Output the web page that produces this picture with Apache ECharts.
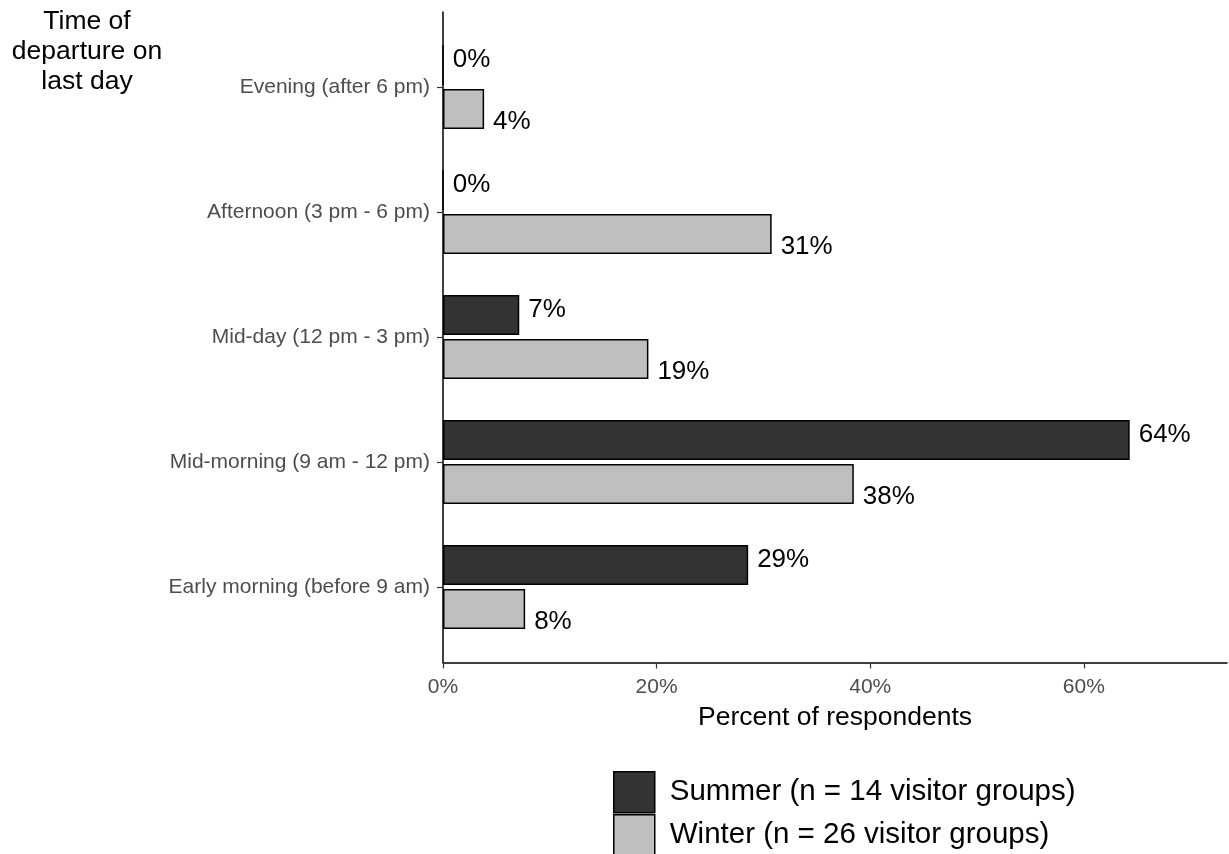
<!DOCTYPE html>
<html>
<head>
<meta charset="utf-8">
<script src="https://cdn.jsdelivr.net/npm/echarts@6/dist/echarts.min.js"></script>
<style>
html,body{margin:0;padding:0;background:#fff;}
#chart{width:1229px;height:854px;}
</style>
</head>
<body>
<div id="chart"></div>
<script>
const categories = ['Early morning (before 9 am)', 'Mid-morning (9 am - 12 pm)', 'Mid-day (12 pm - 3 pm)', 'Afternoon (3 pm - 6 pm)', 'Evening (after 6 pm)'];
const summerValues = [28.57, 64.29, 7.14, 0, 0];
const winterValues = [7.69, 38.46, 19.23, 30.77, 3.85];
const seriesNames = ['Summer (n = 14 visitor groups)', 'Winter (n = 26 visitor groups)'];
const xTicks = [0, 20, 40, 60];

const FONT = 'Liberation Sans, Arial, sans-serif';
const chart = echarts.init(document.getElementById('chart'), null, {renderer: 'canvas'});

const labelCfg = (dy) => ({
  show: true,
  position: 'right',
  distance: 9,
  offset: [0, dy],
  color: '#000',
  fontSize: 26,
  fontFamily: FONT,
  formatter: p => Math.round(p.value) + '%'
});

const legendCfg = (name, top) => ({
  orient: 'vertical',
  left: 613, top: top, padding: 0,
  itemWidth: 41, itemHeight: 41, itemGap: 0,
  icon: 'rect',
  itemStyle: {borderColor: '#000', borderWidth: 1.5},
  textStyle: {color: '#000', fontSize: 29.5, fontFamily: FONT, padding: [2, 0, 0, 10]},
  data: [name]
});

chart.setOption({
  backgroundColor: '#fff',
  animation: false,
  textStyle: {fontFamily: FONT},
  grid: [
    {left: 443, right: 2, top: 24.5, bottom: 204.5, containLabel: false},
    {left: 443, right: 2, top: 12, bottom: 191.5, containLabel: false}
  ],
  xAxis: [
    {
      gridIndex: 0, type: 'value', min: 0, max: 73.4, interval: 20,
      offset: 13,
      axisLine: {show: true, lineStyle: {color: '#000', width: 1.5}},
      axisTick: {show: true, length: 6, lineStyle: {color: '#333', width: 1.2}},
      axisLabel: {
        color: '#4d4d4d', fontSize: 21, fontFamily: FONT, margin: 14,
        showMaxLabel: false,
        formatter: v => (xTicks.indexOf(v) >= 0 ? v + '%' : '')
      },
      splitLine: {show: false},
      name: 'Percent of respondents', nameLocation: 'middle', nameGap: 42,
      nameTextStyle: {color: '#000', fontSize: 26.5, fontFamily: FONT}
    },
    {
      gridIndex: 1, type: 'value', min: 0, max: 1, show: false
    }
  ],
  yAxis: [
    {
      gridIndex: 0, type: 'category', data: categories,
      axisLine: {show: false},
      axisTick: {show: true, alignWithLabel: true, length: 6, lineStyle: {color: '#333', width: 1.2}},
      axisLabel: {color: '#4d4d4d', fontSize: 21, fontFamily: FONT, margin: 13, padding: [4, 0, 0, 0]}
    },
    {
      gridIndex: 1, type: 'value', min: 0, max: 1,
      axisLine: {show: true, onZero: false, lineStyle: {color: '#000', width: 1.5}},
      axisTick: {show: false}, axisLabel: {show: false}, splitLine: {show: false}
    }
  ],
  legend: [legendCfg(seriesNames[0], 771), legendCfg(seriesNames[1], 814)],
  graphic: [
    {
      type: 'text', x: 87, y: 7,
      style: {
        text: 'Time of\ndeparture on\nlast day',
        x: 0, y: 0,
        textAlign: 'center', textVerticalAlign: 'top',
        fill: '#000', fontSize: 26.5, fontFamily: FONT, lineHeight: 30
      }
    }
  ],
  series: [
    {
      name: seriesNames[0], type: 'bar', xAxisIndex: 0, yAxisIndex: 0,
      data: summerValues, barWidth: 40, barGap: '10%',
      itemStyle: {color: '#333333', borderColor: '#000', borderWidth: 1.5},
      label: labelCfg(-5)
    },
    {
      name: seriesNames[1], type: 'bar', xAxisIndex: 0, yAxisIndex: 0,
      data: winterValues, barWidth: 40, barGap: '10%',
      itemStyle: {color: '#bfbfbf', borderColor: '#000', borderWidth: 1.5},
      label: labelCfg(13)
    }
  ]
});
</script>
</body>
</html>
